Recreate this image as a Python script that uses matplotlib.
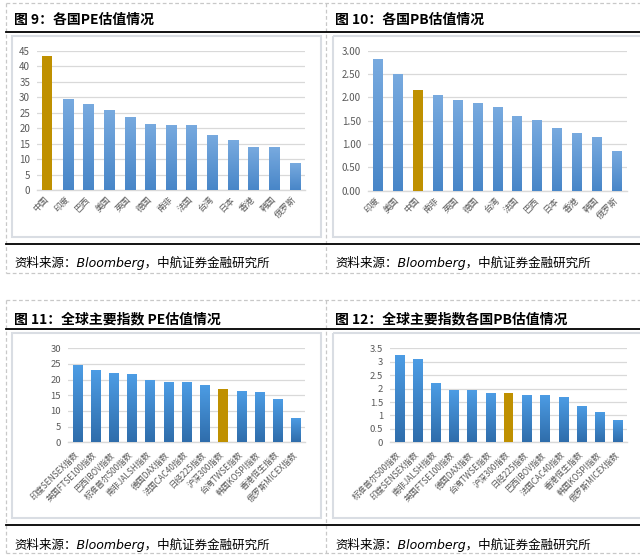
import matplotlib
matplotlib.use("Agg")
import matplotlib.pyplot as plt
import numpy as np
from matplotlib.colors import LinearSegmentedColormap
from matplotlib.patches import Rectangle
from matplotlib.lines import Line2D

plt.rcParams['font.family'] = ['Noto Sans CJK SC', 'DejaVu Sans']

# ---- données ----
pays_pe = ['中国', '印度', '巴西', '美国', '英国', '德国', '南非', '法国', '台湾', '日本', '香港', '韩国', '俄罗斯']
val_pe = [43.3, 29.5, 27.9, 25.7, 23.7, 21.4, 21.1, 21.1, 17.9, 16.0, 13.8, 13.8, 8.6]

pays_pb = ['印度', '美国', '中国', '南非', '英国', '德国', '台湾', '法国', '巴西', '日本', '香港', '韩国', '俄罗斯']
val_pb = [2.82, 2.50, 2.16, 2.05, 1.94, 1.88, 1.79, 1.60, 1.51, 1.34, 1.23, 1.15, 0.85]

indices_pe = ['印度SENSEX指数', '英国FTSE100指数', '巴西IBOV指数', '标准普尔500指数', '南非JALSH指数',
              '德国DAX指数', '法国CAC40指数', '日经225指数', '沪深300指数', '台湾TWSE指数',
              '韩国KOSPI指数', '香港恒生指数', '俄罗斯MICEX指数']
val_ipe = [24.7, 23.1, 22.1, 21.8, 19.9, 19.3, 19.3, 18.3, 17.0, 16.4, 16.1, 13.9, 7.9]

indices_pb = ['标准普尔500指数', '印度SENSEX指数', '南非JALSH指数', '英国FTSE100指数', '德国DAX指数',
              '台湾TWSE指数', '沪深300指数', '日经225指数', '巴西IBOV指数', '法国CAC40指数',
              '香港恒生指数', '韩国KOSPI指数', '俄罗斯MICEX指数']
val_ipb = [3.25, 3.10, 2.20, 1.95, 1.95, 1.83, 1.83, 1.76, 1.76, 1.69, 1.36, 1.13, 0.84]

titres = ['图 9：各国PE估值情况', '图 10：各国PB估值情况',
          '图 11：全球主要指数 PE估值情况', '图 12：全球主要指数各国PB估值情况']
source = '资料来源：Bloomberg，中航证券金融研究所'

OR = '#BF9000'
GRIS = '#595959'

W, H = 640, 558
fig = plt.figure(figsize=(W / 100, H / 100), dpi=100)

# ---- cadre de la page (coordonnées en pixels) ----
fond = fig.add_axes([0, 0, 1, 1])
fond.set_xlim(0, W)
fond.set_ylim(H, 0)
fond.axis('off')

dash = dict(color='#c8c8c8', lw=0.9, ls=(0, (3, 2)))
for y0, y1 in [(3, 273), (300, 553)]:
  fond.add_line(Line2D([6, 6], [y0, y1], **dash))
  fond.add_line(Line2D([326, 326], [y0, y1], **dash))
  fond.add_line(Line2D([6, W], [y0, y0], **dash))
  fond.add_line(Line2D([6, W], [y1, y1], **dash))

for ly, by, bb in [(31.5, 36, 237), (329, 333, 518)]:
  fond.add_line(Line2D([6, W], [ly, ly], color='black', lw=1.3))
  fond.add_line(Line2D([6, W], [bb + 6.5] * 2, color='black', lw=1.3))
  for bx0, bx1 in [(12, 321), (333, W + 5)]:
    fond.add_patch(Rectangle((bx0, by), bx1 - bx0, bb - by, fill=False, ec='#d9dde3', lw=1.5))

positions_titre = [(14, 20), (335, 20), (14, 319), (335, 319)]
for (tx, ty), t in zip(positions_titre, titres):
  fond.text(tx, ty, t, fontsize=10, fontweight='bold', va='center', ha='left', color='black')
for tx, ty in [(14, 263), (335, 263), (14, 545), (335, 545)]:
  fond.text(tx, ty, source, fontsize=9.0, style='italic', va='center', ha='left', color='black',
            family=['DejaVu Sans', 'Noto Sans CJK SC'])


def panneau(rect, labels, vals, hi, ymax, pas, fmt, c_top, c_bot, fs_x, pad_x, fs_y):
  ax = fig.add_axes(rect)
  x = np.arange(len(vals))
  bars = ax.bar(x, vals, width=0.5, color='none', lw=0, zorder=3)
  cmap = LinearSegmentedColormap.from_list('g', [c_bot, c_top])
  grad = np.linspace(0, 1, 100).reshape(-1, 1)
  for i, b in enumerate(bars):
    if i == hi:
      b.set_facecolor(OR)
      continue
    x0 = b.get_x()
    im = ax.imshow(grad, extent=[x0, x0 + b.get_width(), 0, b.get_height()],
                   aspect='auto', cmap=cmap, origin='lower', zorder=3)
    im.set_clip_path(b)
  ax.set_xlim(-0.5, len(vals) - 0.5)
  ax.set_ylim(0, ymax)
  ticks = np.arange(0, ymax + pas / 2, pas)
  ax.set_yticks(ticks)
  ax.set_yticklabels([fmt(t) for t in ticks], fontsize=fs_y, color=GRIS)
  ax.set_xticks(x)
  ax.set_xticklabels(labels, rotation=45, ha='right', va='center', rotation_mode='anchor',
                     fontsize=fs_x, color=GRIS)
  ax.tick_params(axis='both', length=0)
  ax.tick_params(axis='x', pad=pad_x)
  ax.tick_params(axis='y', pad=5)
  ax.grid(axis='y', color='#d9d9d9', lw=0.9, zorder=0)
  ax.set_axisbelow(True)
  for s in ['top', 'right', 'left']:
    ax.spines[s].set_visible(False)
  ax.spines['bottom'].set_color('#d9d9d9')
  ax.spines['bottom'].set_linewidth(1.0)
  ax.set_facecolor('none')
  return ax


def rect_px(x0, x1, ytop, ybot):
  return [x0 / W, 1 - ybot / H, (x1 - x0) / W, (ybot - ytop) / H]


entier = lambda v: '%g' % v
panneau(rect_px(37, 305, 50.7, 190), pays_pe, val_pe, 0, 45, 5, entier,
        '#78aadf', '#4886c8', 6.3, 6, 7)
panneau(rect_px(368, 627, 50.7, 190.7), pays_pb, val_pb, 2, 3, 0.5, lambda v: '%.2f' % v,
        '#78aadf', '#4886c8', 6.3, 6, 7)
panneau(rect_px(68, 305, 348.3, 442.3), indices_pe, val_ipe, 8, 30, 5, entier,
        '#4d9de5', '#2f6dab', 6.0, 8, 6.8)
panneau(rect_px(390, 627, 348.3, 442.3), indices_pb, val_ipb, 6, 3.5, 0.5, entier,
        '#4d9de5', '#2f6dab', 6.0, 8, 6.8)

fig.savefig('out.png', dpi=100)
